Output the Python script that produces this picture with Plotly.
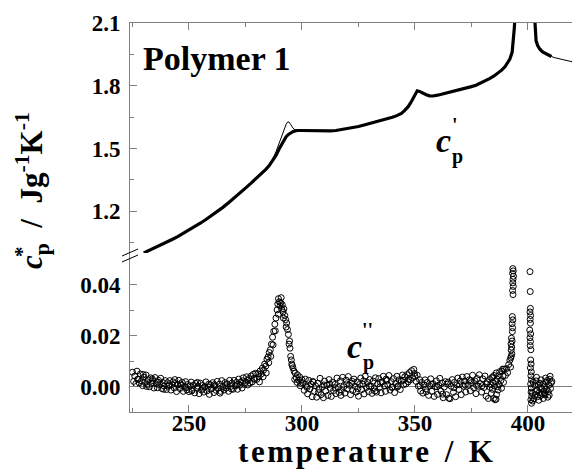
import plotly.graph_objects as go

# ---------------- data ----------------
# c' (thick line), J g^-1 K^-1
cp_T = [230, 232.5, 235, 237.5, 240, 242.5, 245, 247.5, 250, 252.5, 255, 257.5, 260, 262.5, 265, 267.5, 270,
        272.5, 275, 277.5, 280, 282, 284, 285.5, 287, 288.5, 290, 291, 292, 293, 294, 295, 296, 297, 298, 300,
        302.5, 305, 307.5, 310, 312.5, 315, 317.5, 320, 322.5, 325, 327.5, 330, 332.5, 335, 337.5, 340, 342,
        344, 345.5, 347, 348.5, 350, 351, 352, 353.5, 355, 356.5, 358, 360, 362, 364, 366, 368.5, 371, 373,
        375, 377, 379, 381, 383, 385, 387, 388.5, 390, 391, 392, 393, 393.6, 394, 394.6, 395.5, 398, 401.5,
        402.5, 402.8, 403.1, 403.6, 404.3, 405.3, 406.5, 408, 409.3, 410.4]
cp = [1.000, 1.012, 1.024, 1.037, 1.050, 1.064, 1.078, 1.093, 1.108, 1.125, 1.142, 1.160, 1.178, 1.198, 1.218,
      1.240, 1.262, 1.286, 1.310, 1.334, 1.358, 1.379, 1.400, 1.418, 1.440, 1.467, 1.500, 1.520, 1.540, 1.556,
      1.567, 1.575, 1.580, 1.584, 1.586, 1.586, 1.585, 1.584, 1.583, 1.583, 1.584, 1.586, 1.590, 1.594, 1.599,
      1.605, 1.612, 1.619, 1.626, 1.633, 1.641, 1.649, 1.657, 1.668, 1.682, 1.700, 1.726, 1.755, 1.776, 1.773,
      1.764, 1.757, 1.752, 1.751, 1.755, 1.760, 1.765, 1.770, 1.776, 1.783, 1.789, 1.796, 1.803, 1.812, 1.822,
      1.834, 1.847, 1.862, 1.876, 1.893, 1.908, 1.928, 1.960, 2.02, 2.08, 2.2, 2.4, 2.6, 2.4, 2.2, 2.12, 2.05,
      2.015, 1.993, 1.975, 1.962, 1.952, 1.945, 1.940]

# second (thin) c' curve
cp_thin_T = [230, 235, 240, 245, 250, 255, 260, 265, 270, 275, 280, 282, 284, 285.5, 287, 288.5, 290, 291, 292,
             293, 293.7, 294.3, 295, 296, 297, 298, 300, 305, 310, 315, 320, 325, 330, 335, 340, 342, 344, 345.5,
             347, 348.5, 350, 351, 352, 353.5, 355, 356.5, 358, 360, 362, 364, 366, 368.5, 371, 373, 375, 377,
             379, 381, 383, 385, 387, 388.5, 390, 391, 392, 393, 393.6, 394, 394.6, 395.5, 398, 401.5, 402.5,
             402.8, 403.1, 403.6, 404.3, 405.3, 406.5, 408, 409.3, 410.4, 412, 414, 416, 418, 419.5]
cp_thin = [1.000, 1.024, 1.050, 1.078, 1.108, 1.142, 1.178, 1.218, 1.262, 1.310, 1.358, 1.379, 1.400, 1.421,
           1.448, 1.484, 1.530, 1.561, 1.592, 1.616, 1.627, 1.626, 1.615, 1.598, 1.588, 1.586, 1.586, 1.584,
           1.583, 1.586, 1.594, 1.605, 1.619, 1.633, 1.649, 1.657, 1.668, 1.682, 1.700, 1.726, 1.755, 1.776,
           1.773, 1.764, 1.757, 1.752, 1.751, 1.755, 1.760, 1.765, 1.770, 1.776, 1.783, 1.789, 1.796, 1.803,
           1.812, 1.822, 1.834, 1.847, 1.862, 1.876, 1.893, 1.908, 1.928, 1.960, 2.02, 2.08, 2.2, 2.4, 2.6, 2.4,
           2.2, 2.12, 2.05, 2.015, 1.993, 1.975, 1.962, 1.952, 1.945, 1.940, 1.934, 1.928, 1.923, 1.918, 1.915]

# c'' scatter (values in 1e-3 J g^-1 K^-1)
cpp_T_a = [225.0, 225.5, 226.0, 226.5, 227.0, 227.5, 228.0, 228.5, 229.0, 229.5,
           230.0, 230.5, 231.0, 231.5, 232.0, 232.5, 233.0, 233.5, 234.0, 234.5,
           235.0, 235.5, 236.0, 236.5, 237.0, 237.5, 238.0, 238.5, 239.0, 239.5,
           240.0, 240.5, 241.0, 241.5, 242.0, 242.5, 243.0, 243.5, 244.0, 244.5,
           245.0, 245.5, 246.0, 246.5, 247.0, 247.5, 248.0, 248.5, 249.0, 249.5,
           250.0, 250.5, 251.0, 251.5, 252.0, 252.5, 253.0, 253.5, 254.0, 254.5,
           255.0, 255.5, 256.0, 256.5, 257.0, 257.5, 258.0, 258.5, 259.0, 259.5,
           260.0, 260.5, 261.0, 261.5, 262.0, 262.5, 263.0, 263.5, 264.0, 264.5,
           265.0, 265.5, 266.0, 266.5, 267.0, 267.5, 268.0, 268.5, 269.0, 269.5,
           270.0, 270.5, 271.0, 271.5, 272.0, 272.5, 273.0, 273.5, 274.0, 274.5,
           275.0, 275.5, 276.0, 276.5, 277.0, 277.5, 278.0, 278.5, 279.0, 279.5]
cpp_a = [5.8, 2.2, 4.3, 1.3, 6.2, 3.0, 1.6, 5.1, 2.4, 0.5,
         3.9, 1.8, 4.7, 1.0, 2.8, 0.1, 3.6, 1.5, 2.5, -0.4,
         3.7, 1.2, -0.3, 2.6, 0.9, 3.4, -0.6, 1.7, 0.4, 2.5,
         -1.0, 1.7, 0.3, 2.5, -1.2, 0.9, 2.0, -0.4, 1.4, -1.8,
         0.8, 2.6, -0.6, 0.7, 1.8, -1.7, 0.3, 2.1, -1.1, 1.0,
         -1.8, 0.4, 1.9, -1.0, 0.7, -2.3, 1.4, -0.5, 0.3, -2.6,
         1.5, -1.2, 0.6, -2.0, 0.1, 2.0, -1.5, -0.1, -2.9, 0.9,
         -0.7, 1.7, -2.2, 0.4, -1.3, 2.2, -0.4, 1.1, -1.7, 2.5,
         0.1, -1.2, 1.7, -0.4, 1.2, -1.7, 2.6, 0.2, 1.5, -0.9,
         2.6, 0.4, 1.8, -0.9, 3.1, 0.7, 2.0, -0.4, 3.6, 1.0,
         1.8, 4.0, 0.8, 3.3, 1.6, 4.3, 2.0, 5.0, 3.0, 5.4]

cpp_T_b = [280.0, 280.5, 281.0, 281.5, 282.0, 282.5, 283.0, 283.5, 284.0, 284.5,
           285.0, 285.5, 286.0, 286.5, 287.0, 287.5, 288.0, 288.5, 289.0,
           289.3, 289.6, 290.0, 290.3, 290.6, 291.0, 291.3, 291.6, 292.0, 292.4,
           292.8, 293.2, 293.6, 294.0, 294.3, 294.7, 295.0, 295.3, 295.7, 296.0,
           296.5, 297.0, 297.5, 298.0, 298.5, 299.0, 299.5, 300.0,
           281.2, 282.8, 284.2, 285.3, 286.2, 287.2, 288.2, 289.5, 290.8, 291.8,
           293.0, 294.5, 295.5, 296.8, 297.8, 299.2]
cpp_b = [3.0, 5.2, 4.0, 6.3, 5.1, 7.4, 6.6, 9.0, 8.2, 10.9,
         11.8, 13.5, 14.6, 16.8, 19.5, 21.8, 24.6, 27.0, 30.2,
         32.5, 34.6, 33.4, 31.8, 33.0, 30.5, 32.2, 29.4, 30.6, 28.0,
         26.4, 25.1, 22.5, 20.6, 16.8, 15.2, 12.0, 10.6, 8.4, 7.5,
         6.2, 5.4, 3.6, 4.8, 2.7, 3.9, 1.5, 2.8,
         2.0, 4.0, 5.5, 9.5, 12.0, 16.5, 22.0, 28.5, 35.0, 27.0,
         23.5, 18.0, 9.0, 3.0, 1.8, 0.5]

cpp_T_c = [300.5, 301.0, 301.5, 302.0, 302.5, 303.0, 303.5, 304.0, 304.5, 305.0,
           305.5, 306.0, 306.5, 307.0, 307.5, 308.0, 308.5, 309.0, 309.5, 310.0,
           310.5, 311.0, 311.5, 312.0, 312.5, 313.0, 313.5, 314.0, 314.5, 315.0,
           315.5, 316.0, 316.5, 317.0, 317.5, 318.0, 318.5, 319.0, 319.5, 320.0,
           320.5, 321.0, 321.5, 322.0, 322.5, 323.0, 323.5, 324.0, 324.5, 325.0,
           325.5, 326.0, 326.5, 327.0, 327.5, 328.0, 328.5, 329.0, 329.5, 330.0,
           330.5, 331.0, 331.5, 332.0, 332.5, 333.0, 333.5, 334.0, 334.5, 335.0,
           335.5, 336.0, 336.5, 337.0, 337.5, 338.0, 338.5, 339.0, 339.5, 340.0,
           340.5, 341.0, 341.5, 342.0, 342.5, 343.0, 343.5, 344.0, 344.5, 345.0]
cpp_c = [1.6, -1.3, 3.1, 0.3, -2.7, 2.6, -0.8, 1.1, -3.8, 1.9,
         -1.7, 0.5, -4.0, 1.5, -0.9, 3.4, -3.0, 0.0, -4.2, 2.3,
         -1.6, 0.7, -3.3, 2.9, -0.5, -3.7, 1.8, -1.4, 1.0, -2.6,
         3.5, -0.2, -2.1, 2.4, -1.2, 3.8, 0.1, -2.4, 2.7, -0.7,
         4.1, 0.7, -3.0, 1.5, -1.4, 3.1, 0.2, -2.0, 2.0, -3.6,
         1.0, 3.5, -1.0, 1.1, -2.7, 4.2, -0.2, 1.8, -1.8, 2.9,
         0.3, -2.5, 2.3, -0.5, 3.6, -2.0, 1.2, 3.3, 0.0, -2.3,
         2.0, 4.2, 0.4, -1.7, 2.6, 0.8, 4.5, -1.2, 2.1, 0.0,
         3.3, -2.2, 1.4, 4.2, 0.4, 2.8, -1.0, 2.3, 4.7, 0.9]

cpp_T_d = [345.5, 346.0, 346.5, 347.0, 347.5, 348.0, 348.5, 349.0, 349.5, 350.0,
           350.5, 351.0, 351.5, 352.0, 352.5, 353.0, 353.5, 354.0, 354.5, 355.0,
           355.5, 356.0, 356.5, 357.0, 357.5, 358.0, 358.5, 359.0, 359.5, 360.0,
           360.5, 361.0, 361.5, 362.0, 362.5, 363.0, 363.5, 364.0, 364.5, 365.0,
           365.5, 366.0, 366.5, 367.0, 367.5, 368.0, 368.5, 369.0, 369.5, 370.0,
           370.5, 371.0, 371.5, 372.0, 372.5, 373.0, 373.5, 374.0, 374.5, 375.0,
           375.5, 376.0, 376.5, 377.0, 377.5, 378.0, 378.5, 379.0, 379.5, 380.0,
           380.5, 381.0, 381.5, 382.0, 382.5, 383.0,
           383.2, 383.5, 383.8, 384.0, 384.2, 384.5, 384.8, 385.0, 385.2, 385.5,
           385.8, 386.0, 386.3, 386.6, 387.0, 387.5, 388.0, 388.5, 389.0, 389.5,
           385.9, 386.1, 384.4, 386.8, 387.3, 388.3, 388.8, 389.2]
cpp_d = [4.0, 1.2, 4.8, 2.0, 5.6, 2.8, 6.4, 3.6, 6.9, 4.2,
         2.2, 4.6, 0.3, 2.9, -1.6, 1.8, -2.4, 0.8, 2.8, -1.9,
         1.8, -3.3, 0.5, 3.2, -1.7, 1.3, -3.7, 0.2, 2.4, -2.9,
         0.7, 3.4, -1.6, 1.5, -4.2, 0.0, 2.1, -3.0, 1.1, -4.4,
         -4.6, 0.3, 2.9, -2.1, 1.8, -3.8, 0.8, 3.5, -1.0, 2.3,
         -3.0, 3.9, 0.3, 2.3, -2.0, 4.1, 0.7, 2.8, -1.5, 1.7,
         4.6, -0.3, 2.4, -2.6, 3.3, 0.3, 4.8, 1.3, -2.0, 3.2,
         -0.2, 4.3, -3.6, 2.0, -4.5, 2.9,
         -0.1, 0.9, -2.5, 3.6, -0.9, 1.8, -4.5, 4.5, 0.4, -5.0,
         2.1, 5.5, 3.1, 0.1, 4.4, 6.0, 2.5, 6.2, 4.4, 7.0,
         -4.8, -3.0, 3.9, -1.2, 1.0, -0.5, 7.0, 1.8]

cpp_T_e = [390.0, 390.5, 391.0, 391.5, 392.0, 392.3, 392.6,
           393.3, 393.5, 393.2, 393.6, 393.4, 393.3, 393.5, 393.2, 393.4,
           393.1, 393.3, 393.0, 393.2, 393.1,
           392.7, 393.0, 392.5, 392.8, 392.6,
           392.9, 392.4]
cpp_e = [4.5, 7.2, 5.6, 8.8, 10.5, 7.8, 12.0,
         46.4, 45.5, 44.5, 43.4, 42.2, 40.8, 39.4, 37.8, 36.2,
         27.6, 26.3, 24.8, 23.2, 21.7,
         19.1, 18.0, 16.9, 15.6, 14.5,
         13.0, 11.4]

cpp_T_f = [400.9, 401.0,
           401.1, 400.9, 401.2, 401.0, 401.1,
           400.8, 401.2, 400.9, 401.1, 401.0, 401.3,
           401.2, 401.4, 401.1, 401.5, 401.3, 401.6, 401.2, 401.5, 401.4, 401.7, 401.3, 401.6]
cpp_f = [45.2, 37.4,
         30.8, 29.4, 28.0, 26.5, 25.0,
         22.3, 20.8, 19.3, 17.8, 16.2, 14.6,
         10.6, 9.0, 7.5, 5.9, 4.4, 2.8, 1.2, -0.4, -2.0, -3.6, -5.0, -6.4]

cpp_T_g = [402.0, 402.3, 402.6, 403.0, 403.3, 403.6, 404.0, 404.3, 404.6, 405.0,
           405.3, 405.6, 406.0, 406.3, 406.6, 407.0, 407.3, 407.6, 408.0, 408.3,
           408.6, 409.0, 409.3, 409.6, 410.0, 410.3, 410.6,
           402.1, 403.8, 404.8, 405.8, 406.8, 407.8, 408.8, 409.8, 403.4, 405.5, 407.5, 409.4]
cpp_g = [-2.4, 1.8, -4.6, 0.6, -3.0, 2.4, -1.2, -3.8, 0.9, -2.2,
         1.5, -3.4, -0.5, -2.8, 1.2, -1.6, 0.3, -3.1, 1.9, -0.9,
         2.6, -1.8, 0.7, 3.0, -0.6, 1.6, 2.2,
         -5.5, 3.8, -5.2, 2.8, -4.5, 3.5, -4.0, 4.2, -1.8, 0.0, -2.4, -3.2]

# additional readings between the regular ones
cpp_T_h = [227.25, 229.75, 231.25, 233.75, 236.25, 238.75, 241.25, 243.75, 246.25, 248.75,
           251.25, 253.75, 256.25, 258.75, 261.25, 263.75, 266.25, 268.75, 271.25, 273.75,
           276.25, 278.75,
           302.25, 304.75, 307.25, 309.75, 312.25, 314.75, 317.25, 319.75, 322.25, 324.75,
           327.25, 329.75, 332.25, 334.75, 337.25, 339.75, 342.25, 344.75, 347.25, 349.75,
           352.25, 354.75, 357.25, 359.75, 362.25, 364.75, 367.25, 369.75, 372.25, 374.75,
           377.25, 379.75, 381.75]
cpp_h = [3.0, 4.9, 0.2, 3.2, 1.9, -0.9, 0.8, 2.9, 1.2, -0.3,
         -1.5, 1.8, -0.5, 1.1, 0.9, -2.4, 0.5, -0.8, 0.9, 2.4,
         2.6, 3.4,
         -0.2, 2.2, -2.2, 0.8, 1.1, -0.3, -3.3, 1.2, 2.2, -0.6,
         2.4, 0.3, -1.6, 1.8, 3.1, -0.2, 0.0, 2.6, 3.0, 5.3,
         0.5, -0.8, 1.0, 0.1, -2.8, 1.9, -0.3, 0.9, 0.8, 2.5,
         0.6, 0.5, 1.2]

x_major = [250, 300, 350, 400]
x_minor = [225, 275, 325, 375]
y_top_major = [1.2, 1.5, 1.8, 2.1]
y_top_labels = ["1.2", "1.5", "1.8", "2.1"]
y_top_minor = [1.05, 1.35, 1.65, 1.95]
y_bot_major = [0.0, 0.02, 0.04]
y_bot_labels = ["0.00", "0.02", "0.04"]
y_bot_minor = [0.01, 0.03]

# ---------------- assemble ----------------
cpp_T = cpp_T_a + cpp_T_b + cpp_T_c + cpp_T_d + cpp_T_e + cpp_T_f + cpp_T_g + cpp_T_h
cpp = [v / 1000.0 for v in (cpp_a + cpp_b + cpp_c + cpp_d + cpp_e + cpp_f + cpp_g + cpp_h)]
n = min(len(cpp_T), len(cpp))
cpp_T, cpp = cpp_T[:n], cpp[:n]
m = min(len(cp_thin_T), len(cp_thin))
cp_thin_T, cp_thin = cp_thin_T[:m], cp_thin[:m]
k = min(len(cp_T), len(cp))
cp_T, cp = cp_T[:k], cp[:k]

W, H = 572, 470
ML, MR, MT, MB = 130, 0, 23, 58
PW = W - ML - MR
PH = H - MT - MB


def px(x):
    return (x - ML) / PW


def py(y):
    return (H - MB - y) / PH


split = py(253)
GRAY = "#808080"
SERIF = "Liberation Serif"

fig = go.Figure()
fig.add_trace(go.Scatter(x=cp_thin_T, y=cp_thin, mode="lines", line=dict(color="black", width=1),
                         xaxis="x2", yaxis="y2", showlegend=False, hoverinfo="skip"))
fig.add_trace(go.Scatter(x=cp_T, y=cp, mode="lines", line=dict(color="black", width=3.2),
                         xaxis="x2", yaxis="y2", showlegend=False))
fig.add_trace(go.Scatter(x=cpp_T, y=cpp, mode="markers",
                         marker=dict(symbol="circle-open", size=6, color="black", line=dict(width=1, color="black")),
                         xaxis="x", yaxis="y", showlegend=False))

tickfont = dict(family=SERIF, size=23, color="black", weight="bold")
common = dict(showline=True, linecolor=GRAY, linewidth=1, ticks="inside", tickcolor=GRAY, tickwidth=1,
              showgrid=False, tickfont=tickfont)

fig.update_layout(
    width=W, height=H,
    margin=dict(l=ML, r=MR, t=MT, b=MB),
    paper_bgcolor="white", plot_bgcolor="white",
    showlegend=False,
    xaxis=dict(domain=[0, 1], range=[223.9, 419.5], anchor="y", tickvals=x_major, ticklen=7,
               zeroline=False,
               minor=dict(tickvals=x_minor, ticklen=4, ticks="inside", tickcolor=GRAY, showgrid=False),
               **common),
    xaxis2=dict(domain=[0, 1], range=[223.9, 419.5], anchor="y2", side="top", matches="x",
                tickvals=x_major, ticklen=7, showticklabels=False, zeroline=False,
                minor=dict(tickvals=x_minor, ticklen=4, ticks="inside", tickcolor=GRAY, showgrid=False),
                **common),
    yaxis=dict(domain=[0, split], range=[-0.0098, 0.0525], anchor="x", tickvals=y_bot_major,
               ticktext=y_bot_labels, ticklen=7, zeroline=True, zerolinecolor=GRAY, zerolinewidth=1,
               minor=dict(tickvals=y_bot_minor, ticklen=4, ticks="inside", tickcolor=GRAY, showgrid=False),
               ticklabelstandoff=4,
               **common),
    yaxis2=dict(domain=[split, 1], range=[0.9995, 2.1005], anchor="x2", tickvals=y_top_major,
                ticktext=y_top_labels, ticklen=7, zeroline=False,
                minor=dict(tickvals=y_top_minor, ticklen=4, ticks="inside", tickcolor=GRAY, showgrid=False),
                ticklabelstandoff=4,
                **common),
)
try:
    fig.update_layout(xaxis=dict(ticklabelstandoff=-10))
except Exception:
    pass

# axis break marks
for y0 in (256, 262):
    fig.add_shape(type="line", xref="paper", yref="paper", x0=px(122), y0=py(y0), x1=px(138), y1=py(y0 - 7),
                  line=dict(color="black", width=1))

ann = []
ann.append(dict(text="<b>Polymer 1</b>", x=px(141), y=py(58), xanchor="left", yanchor="middle",
                font=dict(family=SERIF, size=34, color="black")))
hs = "\u200a"
title_x = hs.join("temperature") + "\u00a0\u00a0/\u00a0\u00a0K"
ann.append(dict(text="<b>" + title_x + "</b>", x=px(365), y=py(452), xanchor="center", yanchor="middle",
                font=dict(family=SERIF, size=31, color="black")))
ann.append(dict(text="<b><i>c</i><sub>p</sub>\u00a0\u00a0/\u00a0\u00a0Jg<sup>-1</sup>K<sup>-1</sup></b>",
                x=px(32), y=py(191), xanchor="center", yanchor="middle", textangle=-90,
                font=dict(family=SERIF, size=31, color="black")))
ann.append(dict(text="<b>*</b>", x=px(22), y=py(252), xanchor="center", yanchor="middle", textangle=-90,
                font=dict(family=SERIF, size=21, color="black")))
# c'_p label
ann.append(dict(text="<b><i>c</i></b>", x=px(443), y=py(140), xanchor="center", yanchor="middle",
                font=dict(family=SERIF, size=34, color="black")))
ann.append(dict(text="<b>p</b>", x=px(457), y=py(157), xanchor="center", yanchor="middle",
                font=dict(family=SERIF, size=20, color="black")))
ann.append(dict(text="<b>'</b>", x=px(455), y=py(125), xanchor="center", yanchor="middle",
                font=dict(family=SERIF, size=20, color="black")))
# c''_p label
ann.append(dict(text="<b><i>c</i></b>", x=px(354), y=py(346), xanchor="center", yanchor="middle",
                font=dict(family=SERIF, size=34, color="black")))
ann.append(dict(text="<b>p</b>", x=px(368), y=py(362), xanchor="center", yanchor="middle",
                font=dict(family=SERIF, size=20, color="black")))
ann.append(dict(text="<b>''</b>", x=px(367), y=py(330), xanchor="center", yanchor="middle",
                font=dict(family=SERIF, size=20, color="black")))

for a in ann:
    a.update(xref="paper", yref="paper", showarrow=False)
fig.update_layout(annotations=ann)

fig.write_html("out.html")
